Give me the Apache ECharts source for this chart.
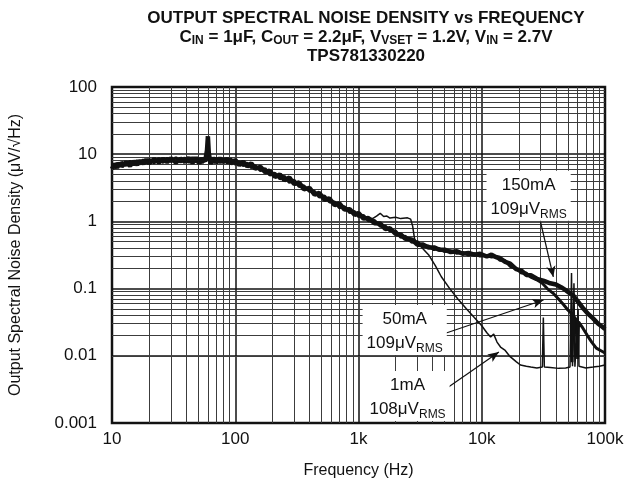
<!DOCTYPE html>
<html>
<head>
<meta charset="utf-8">
<script src="https://cdn.jsdelivr.net/npm/echarts@6/dist/echarts.min.js"></script>
<style>
  html, body { margin: 0; padding: 0; background: #fff; }
  #chart { width: 641px; height: 485px; }
</style>
</head>
<body>
<div id="chart"></div>
<script>
// shared frequency points (Hz) for the 150mA / 50mA traces up to 25k
var freqLow = [10, 10.5, 11, 11.5, 12, 13, 14, 15, 16, 17, 18, 19, 20, 22, 24, 26, 28, 30, 33, 36, 39, 42, 45, 48, 51, 54, 57, 59, 60, 61, 63, 66, 70, 75, 80, 86, 92, 100,
  108, 116, 125, 135, 145, 160, 175, 190, 210, 230, 250, 275, 300, 330, 360, 400, 440, 480, 530, 580, 640, 700, 770, 850, 930, 1000,
  1100, 1200, 1350, 1500, 1650, 1800, 2000, 2200, 2400, 2700, 3000, 3300, 3700, 4100, 4500, 5000, 5600, 6300, 7000, 7800, 8700, 9700,
  11000, 12000, 13000, 14000, 15500, 17000, 19000, 21000, 23000, 25000];

var noise150Low = [6.0, 7.2, 6.3, 7.4, 6.6, 7.6, 6.7, 7.8, 7.0, 8.0, 7.2, 8.3, 7.3, 8.5, 7.5, 8.6, 7.6, 8.7, 7.5, 8.6, 7.7, 8.8, 7.4, 8.9, 7.3, 8.7, 7.8, 11.5, 18.5, 10.5, 7.2, 8.8, 7.5, 8.7, 7.6, 8.6, 7.3, 8.2,
  6.9, 7.7, 6.6, 7.3, 6.1, 6.5, 5.4, 5.7, 4.6, 5.0, 4.1, 4.5, 3.6, 3.8, 3.0, 3.15, 2.5, 2.65, 2.1, 2.2, 1.75, 1.85, 1.5, 1.52, 1.25, 1.33,
  1.1, 1.12, 0.94, 0.93, 0.77, 0.79, 0.65, 0.64, 0.55, 0.54, 0.45, 0.455, 0.41, 0.41, 0.38, 0.38, 0.35, 0.36, 0.33, 0.34, 0.32, 0.33,
  0.30, 0.32, 0.295, 0.285, 0.25, 0.235, 0.195, 0.185, 0.16, 0.158];
var freq150High = [28000, 32000, 36000, 40000, 44000, 48000, 52000, 55000, 58000, 62000, 67000, 73000, 80000, 88000, 95000, 100000];
var noise150High = [0.14, 0.13, 0.12, 0.115, 0.105, 0.095, 0.085, 0.08, 0.07, 0.06, 0.05, 0.042, 0.036, 0.03, 0.027, 0.025];

var noise50Low = [7.0, 6.3, 7.4, 6.6, 7.6, 6.8, 7.9, 6.9, 8.1, 7.1, 8.3, 7.3, 8.4, 7.4, 8.7, 7.5, 8.8, 7.7, 8.9, 7.6, 8.8, 7.5, 9.0, 7.6, 8.7, 7.4, 8.6, 8.4, 9.5, 8.2, 8.9, 7.4, 8.8, 7.4, 8.7, 7.4, 8.6, 7.1,
  7.8, 6.7, 7.4, 6.3, 6.8, 5.7, 6.1, 4.9, 5.2, 4.3, 4.7, 3.8, 4.1, 3.3, 3.4, 2.8, 2.8, 2.3, 2.4, 1.95, 1.95, 1.6, 1.65, 1.35, 1.4, 1.18,
  1.22, 1.02, 1.03, 0.85, 0.85, 0.72, 0.72, 0.58, 0.6, 0.49, 0.5, 0.42, 0.43, 0.38, 0.395, 0.355, 0.365, 0.335, 0.345, 0.315, 0.33, 0.305,
  0.31, 0.295, 0.30, 0.265, 0.26, 0.215, 0.2, 0.17, 0.17, 0.148];
var freq50High = [28000, 31000, 34000, 38000, 42000, 46000, 50000, 53000, 54000, 55000, 58000, 60000, 61000, 66000, 72000, 78000, 85000, 92000, 100000];
var noise50High = [0.135, 0.12, 0.1, 0.085, 0.07, 0.058, 0.048, 0.043, 0.008, 0.04, 0.035, 0.009, 0.032, 0.026, 0.02, 0.016, 0.013, 0.012, 0.011];

var freq1 = [10, 15, 20, 30, 40, 50, 58, 60, 62, 70, 100, 150, 200, 300, 400, 500, 700, 1000, 1200, 1300, 1400, 1500, 1600, 1700, 1800, 2000, 2200, 2500,
  2650, 2750, 2850, 3000, 3300, 3700, 4200, 4700, 5500, 6400, 7500, 8700, 10000, 11000, 11800, 12500, 13300, 14200, 15500, 17000, 19000, 20600,
  23000, 25000, 28000, 31000, 31600, 32200, 36000, 42000, 48000, 52000, 53500, 54500, 56000, 57000, 58000, 60500, 61500, 63000, 70000, 80000, 90000, 100000];
var noise1 = [7.0, 7.5, 7.9, 8.0, 8.1, 8.0, 8.2, 14, 8.1, 7.9, 7.6, 6.5, 5.0, 3.8, 2.9, 2.4, 1.8, 1.3, 1.12, 1.1, 1.2, 1.32, 1.18, 1.2, 1.12, 1.15, 1.1, 1.13,
  1.08, 0.85, 0.55, 0.48, 0.4, 0.32, 0.22, 0.15, 0.1, 0.07, 0.05, 0.037, 0.028, 0.022, 0.019, 0.021, 0.016, 0.0135, 0.012, 0.0097, 0.0082, 0.0073,
  0.007, 0.0068, 0.0066, 0.0068, 0.037, 0.0068, 0.0067, 0.0065, 0.0066, 0.0068, 0.17, 0.007, 0.12, 0.0069, 0.0068, 0.05, 0.007, 0.0068, 0.0066, 0.0068, 0.007, 0.0073];

var xTickLabels = ['10', '100', '1k', '10k', '100k'];
var yTickLabels = ['0.001', '0.01', '0.1', '1', '10', '100'];

// labels: [freq, value] anchor, label lines; arrows: from -> to
var notes = [
  { at: [24000, 2.4], load: '150mA', rms: '109' },
  { at: [2370, 0.0242], load: '50mA', rms: '109' },
  { at: [2500, 0.00252], load: '1mA', rms: '108' }
];
var arrows = [
  [[30000, 0.98], [38100, 0.149]],
  [[5150, 0.0218], [31700, 0.0676]],
  [[4700, 0.00289], [13770, 0.0114]]
];

function zip(xs, ys) {
  var out = [];
  for (var i = 0; i < xs.length; i++) out.push([xs[i], ys[i]]);
  return out;
}

// 2..9 lines inside each decade
var xMinor = [], yMinor = [];
for (var e = 1; e <= 4; e++) for (var m = 2; m <= 9; m++) xMinor.push(m * Math.pow(10, e));
for (var e2 = -3; e2 <= 1; e2++) for (var m2 = 2; m2 <= 9; m2++) yMinor.push(+(m2 * Math.pow(10, e2)).toPrecision(3));

var FONT = "'Liberation Sans', Arial, Helvetica, sans-serif";
var subRich = {
  t: { fontFamily: FONT, fontSize: 17, fontWeight: 'bold', color: '#111', lineHeight: 19 },
  s: { fontFamily: FONT, fontSize: 12, fontWeight: 'bold', color: '#111', lineHeight: 12, padding: [7, 0, 0, 0], verticalAlign: 'bottom' }
};

var myChart = echarts.init(document.getElementById('chart'), null, { renderer: 'canvas' });
var option = {
  animation: false,
  backgroundColor: '#fff',
  title: {
    text: '{t|OUTPUT SPECTRAL NOISE DENSITY vs FREQUENCY}\n' +
      '{t|C}{s|IN}{t| = 1μF, C}{s|OUT}{t| = 2.2μF, V}{s|VSET}{t| = 1.2V, V}{s|IN}{t| = 2.7V}\n' +
      '{t|TPS781330220}',
    left: 366,
    top: 9,
    textAlign: 'center',
    padding: 0,
    textStyle: { rich: subRich, align: 'center' }
  },
  grid: {
    left: 108, right: 36, top: 87, bottom: 62,
    show: true, borderColor: '#1a1a1a', borderWidth: 2.5, backgroundColor: 'transparent'
  },
  xAxis: {
    type: 'log', logBase: 10, min: 10, max: 100000,
    name: 'Frequency (Hz)', nameLocation: 'middle', nameGap: 40,
    nameTextStyle: { fontFamily: FONT, fontSize: 16, color: '#111' },
    axisLine: { show: false }, axisTick: { show: false },
    axisLabel: {
      fontFamily: FONT, fontSize: 17, color: '#111', margin: 8,
      formatter: function (v) { return xTickLabels[Math.round(Math.log10(v)) - 1]; }
    },
    splitLine: { show: true, lineStyle: { color: '#111', width: 1.5 } }
  },
  yAxis: {
    type: 'log', logBase: 10, min: 0.001, max: 100,
    name: 'Output Spectral Noise Density (μV/√Hz)', nameLocation: 'middle', nameGap: 88,
    nameTextStyle: { fontFamily: FONT, fontSize: 16, color: '#111' },
    axisLine: { show: false }, axisTick: { show: false },
    axisLabel: {
      fontFamily: FONT, fontSize: 17, color: '#111', margin: 15,
      formatter: function (v) { return yTickLabels[Math.round(Math.log10(v)) + 3]; }
    },
    splitLine: { show: true, lineStyle: { color: '#111', width: 1.5 } }
  },
  series: [
    {
      name: 'grid minor', type: 'line', data: [], silent: true, z: 1,
      markLine: {
        silent: true, symbol: ['none', 'none'], label: { show: false },
        lineStyle: { color: '#3c3c3c', width: 1, type: 'solid' },
        emphasis: { disabled: true },
        data: xMinor.map(function (v) { return { xAxis: v }; })
          .concat(yMinor.map(function (v) { return { yAxis: v }; }))
      }
    },
    {
      name: '150mA', type: 'line', showSymbol: false, z: 5,
      data: zip(freqLow.concat(freq150High), noise150Low.concat(noise150High)),
      lineStyle: { color: '#111', width: 4.5 }
    },
    {
      name: '50mA', type: 'line', showSymbol: false, z: 5,
      data: zip(freqLow.concat(freq50High), noise50Low.concat(noise50High)),
      lineStyle: { color: '#111', width: 3 }
    },
    {
      name: '1mA', type: 'line', showSymbol: false, z: 5,
      data: zip(freq1, noise1),
      lineStyle: { color: '#111', width: 1.5 }
    },
    {
      name: 'notes', type: 'line', data: [], silent: true, z: 4,
      markLine: {
        silent: true, symbol: ['none', 'arrow'], symbolSize: [7, 11],
        label: { show: false },
        lineStyle: { color: '#111', width: 1.2, type: 'solid' },
        data: arrows.map(function (a) { return [{ coord: a[0] }, { coord: a[1] }]; })
      },
      markPoint: {
        silent: true, symbol: 'rect', symbolSize: 1,
        itemStyle: { color: 'transparent' },
        label: {
          show: true, position: 'inside', backgroundColor: '#fff', padding: [2, 4, 0, 4],
          align: 'center',
          rich: {
            a: { fontFamily: FONT, fontSize: 17, color: '#111', lineHeight: 24, align: 'center' },
            s: { fontFamily: FONT, fontSize: 12, color: '#111', lineHeight: 12, padding: [10, 0, 0, 0], verticalAlign: 'bottom' }
          }
        },
        data: notes.map(function (n) {
          return {
            coord: n.at,
            label: { formatter: '{a|' + n.load + '}\n{a|' + n.rms + 'μV}{s|RMS}' }
          };
        })
      }
    }
  ]
};
myChart.setOption(option);
</script>
</body>
</html>
